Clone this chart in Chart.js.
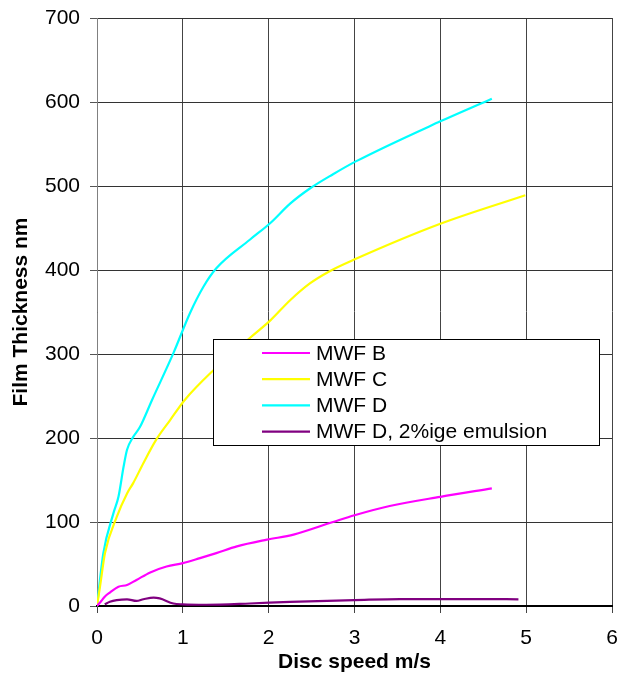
<!DOCTYPE html>
<html>
<head>
<meta charset="utf-8">
<script src="https://cdn.jsdelivr.net/npm/chart.js@4.4.1/dist/chart.umd.min.js"></script>
<style>
html,body{margin:0;padding:0;background:#fff;}
#wrap{position:relative;width:619px;height:675px;}
</style>
</head>
<body>
<div id="wrap"><canvas id="c" width="619" height="675"></canvas></div>
<script>
// Data
const seriesNames = ["MWF B", "MWF C", "MWF D", "MWF D, 2%ige emulsion"];
const seriesColors = ["#FF00FF", "#FFFF00", "#00FFFF", "#800080"];

const mwfB_x = [0, 0.05, 0.09, 0.15, 0.25, 0.35, 0.46, 0.62, 0.81, 1.0, 1.2, 1.39, 1.63, 1.98, 2.29, 2.75, 3.0, 3.41, 4.0, 4.6];
const mwfB_y = [0, 6, 11, 16, 23, 25, 31, 40, 47, 51, 57, 63, 71, 79, 85, 100, 108, 119, 130, 140];

const mwfC_x = [0, 0.035, 0.093, 0.23, 0.35, 0.42, 0.54, 0.69, 0.85, 1.02, 1.36, 1.78, 2.02, 2.25, 2.48, 2.7, 3.01, 4.0, 4.99];
const mwfC_y = [0, 23, 63, 106, 134, 146, 170, 198, 221, 245, 281, 319, 340, 364, 384, 398, 413, 455, 489];

const mwfD_x = [0, 0.074, 0.19, 0.25, 0.31, 0.35, 0.42, 0.5, 0.64, 0.89, 1.08, 1.24, 1.39, 1.78, 2.02, 2.25, 2.48, 2.75, 3.01, 4.0, 4.6];
const mwfD_y = [0, 63, 110, 130, 166, 186, 201, 213, 245, 301, 348, 380, 402, 436, 456, 479, 497, 514, 529, 577, 604];

const mwfDem_x = [0.09, 0.15, 0.23, 0.35, 0.46, 0.54, 0.66, 0.73, 0.89, 1.0, 1.27, 1.78, 2.25, 3.0, 3.53, 4.5, 4.91];
const mwfDem_y = [2, 5, 7, 8, 6, 8, 10, 9, 3, 2, 1.5, 3, 5, 7, 8.3, 8.3, 8];

const xTicks = [0, 1, 2, 3, 4, 5, 6];
const yTicks = [0, 100, 200, 300, 400, 500, 600, 700];

const xs = [mwfB_x, mwfC_x, mwfD_x, mwfDem_x];
const ys = [mwfB_y, mwfC_y, mwfD_y, mwfDem_y];

const FONT = "'Liberation Sans', Arial, sans-serif";

const datasets = seriesNames.map((name, i) => ({
  label: name,
  data: xs[i].map((x, k) => ({x: x, y: ys[i][k]})),
  borderColor: seriesColors[i],
  backgroundColor: seriesColors[i],
  borderWidth: 2.2,
  pointRadius: 0,
  fill: false,
  tension: 0.35,
  cubicInterpolationMode: 'monotone'
}));

const boxLegend = {
  id: 'boxLegend',
  afterDatasetsDraw(chart) {
    const ctx = chart.ctx;
    const a = chart.chartArea;
    const left = a.left + 116, top = a.top + 321, w = 386, h = 106;
    ctx.save();
    ctx.fillStyle = '#fff';
    ctx.fillRect(left, top, w, h);
    ctx.strokeStyle = '#000';
    ctx.lineWidth = 1;
    ctx.strokeRect(left + 0.5, top + 0.5, w, h);
    ctx.font = "21px " + FONT;
    ctx.textBaseline = 'middle';
    ctx.textAlign = 'left';
    chart.data.datasets.forEach((ds, i) => {
      const y = top + 14 + i * 26.2;
      ctx.strokeStyle = ds.borderColor;
      ctx.lineWidth = 2.2;
      ctx.beginPath();
      ctx.moveTo(left + 49, y);
      ctx.lineTo(left + 97, y);
      ctx.stroke();
      ctx.fillStyle = '#000';
      ctx.fillText(ds.label, left + 103, y + 1);
    });
    ctx.restore();
  }
};

new Chart(document.getElementById('c'), {
  type: 'line',
  data: { datasets: datasets },
  options: {
    responsive: false,
    animation: false,
    devicePixelRatio: 1,
    layout: { padding: { left: 0, right: 7, top: 18, bottom: 0 } },
    plugins: {
      legend: { display: false },
      tooltip: { enabled: false }
    },
    scales: {
      x: {
        type: 'linear',
        min: 0, max: 6,
        afterBuildTicks(scale) { scale.ticks = xTicks.map(v => ({value: v})); },
        afterFit(scale) { scale.height = 69; scale.paddingRight = 0; scale.paddingLeft = 0; },
        ticks: { color: '#000', font: { family: FONT, size: 21 }, padding: 13, maxRotation: 0 },
        grid: { color: '#444', lineWidth: 1, tickLength: 7, tickColor: '#444' },
        border: { color: '#000', width: 2 },
        title: { display: true, text: 'Disc speed m/s', color: '#000', font: { family: FONT, size: 21, weight: 'bold' }, padding: { top: 0, bottom: 0 } }
      },
      y: {
        type: 'linear',
        min: 0, max: 700,
        afterBuildTicks(scale) { scale.ticks = yTicks.map(v => ({value: v})); },
        afterFit(scale) { scale.width = 97; scale.paddingTop = 0; scale.paddingBottom = 0; },
        ticks: { color: '#000', font: { family: FONT, size: 21 }, padding: 10 },
        grid: { color: '#333', lineWidth: 1, tickLength: 7, tickColor: '#555' },
        border: { color: '#808080', width: 1 },
        title: { display: true, text: 'Film Thickness nm', color: '#000', font: { family: FONT, size: 21, weight: 'bold' }, padding: { top: 9, bottom: 0 } }
      }
    }
  },
  plugins: [boxLegend]
});
</script>
</body>
</html>
